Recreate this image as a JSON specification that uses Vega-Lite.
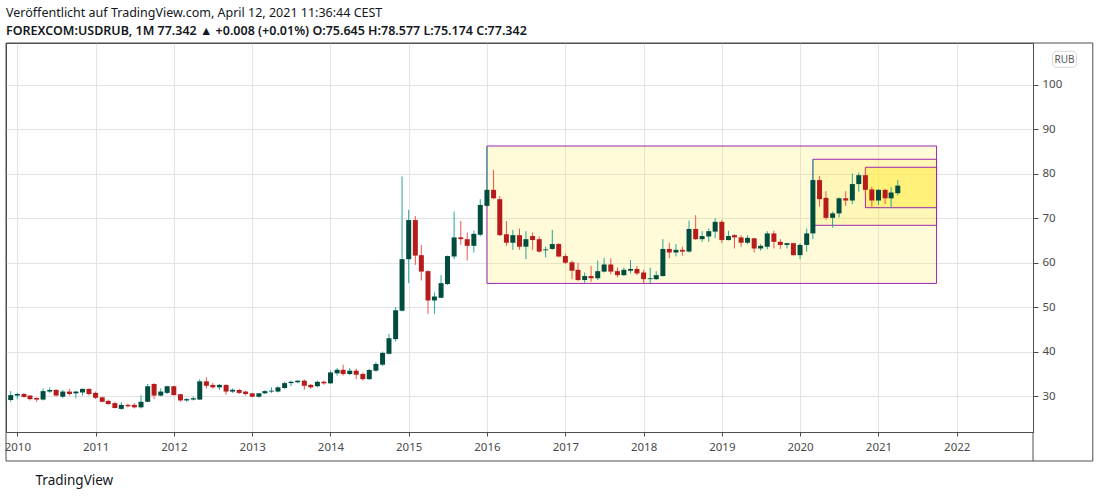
{
  "$schema": "https://vega.github.io/schema/vega-lite/v6.json",
  "width": 1027,
  "height": 389,
  "autosize": {"type": "none"},
  "padding": {"left": 6, "top": 43, "right": 67, "bottom": 66},
  "background": "white",
  "title": {
    "text": "Veröffentlicht auf TradingView.com, April 12, 2021 11:36:44 CEST",
    "subtitle": "FOREXCOM:USDRUB, 1M  77.342 ▲ +0.008 (+0.01%)  O:75.645  H:78.577  L:75.174  C:77.342",
    "anchor": "start",
    "frame": "group",
    "offset": 5,
    "font": "Noto Sans",
    "fontSize": 12.5,
    "fontWeight": "normal",
    "color": "#131722",
    "subtitleFont": "Noto Sans",
    "subtitleFontSize": 12.5,
    "subtitleFontWeight": 600,
    "subtitleColor": "#131722",
    "subtitlePadding": 6
  },
  "config": {
    "view": {"stroke": "#4f4f4f", "strokeWidth": 1},
    "axis": {
      "gridColor": "#e3e3e3",
      "domainColor": "#4f4f4f",
      "tickColor": "#4f4f4f",
      "labelFont": "Noto Sans",
      "labelFontSize": 11.5,
      "labelColor": "#4a4a4a",
      "titleFont": "Noto Sans"
    }
  },
  "datasets": {
    "candles": [
      {"d":"2009-12-01","o":29.1,"h":31.1,"l":28.7,"c":30.2},
      {"d":"2010-01-01","o":30.1,"h":30.7,"l":29.3,"c":30.45},
      {"d":"2010-02-01","o":30.45,"h":30.7,"l":29.6,"c":29.8},
      {"d":"2010-03-01","o":30.1,"h":30.2,"l":29.0,"c":29.3},
      {"d":"2010-04-01","o":29.55,"h":29.7,"l":28.7,"c":29.2},
      {"d":"2010-05-01","o":29.2,"h":31.7,"l":29.0,"c":31.1},
      {"d":"2010-06-01","o":31.0,"h":31.95,"l":30.7,"c":31.35},
      {"d":"2010-07-01","o":31.35,"h":31.6,"l":29.9,"c":30.1},
      {"d":"2010-08-01","o":29.85,"h":31.4,"l":29.5,"c":31.0},
      {"d":"2010-09-01","o":31.0,"h":31.6,"l":30.1,"c":30.45},
      {"d":"2010-10-01","o":30.6,"h":31.1,"l":29.5,"c":31.0},
      {"d":"2010-11-01","o":30.8,"h":31.7,"l":30.1,"c":31.6},
      {"d":"2010-12-01","o":31.6,"h":31.7,"l":30.1,"c":30.45},
      {"d":"2011-01-01","o":30.7,"h":31.0,"l":29.3,"c":29.6},
      {"d":"2011-02-01","o":29.7,"h":29.9,"l":28.6,"c":28.7},
      {"d":"2011-03-01","o":28.9,"h":29.2,"l":28.0,"c":28.2},
      {"d":"2011-04-01","o":28.4,"h":28.7,"l":27.2,"c":27.3},
      {"d":"2011-05-01","o":27.1,"h":28.6,"l":26.9,"c":28.0},
      {"d":"2011-06-01","o":28.0,"h":28.3,"l":27.45,"c":27.7},
      {"d":"2011-07-01","o":28.0,"h":28.4,"l":27.2,"c":27.45},
      {"d":"2011-08-01","o":27.45,"h":30.2,"l":27.2,"c":28.7},
      {"d":"2011-09-01","o":28.7,"h":32.7,"l":28.6,"c":32.2},
      {"d":"2011-10-01","o":32.7,"h":32.9,"l":29.3,"c":30.1},
      {"d":"2011-11-01","o":30.1,"h":31.7,"l":29.9,"c":31.0},
      {"d":"2011-12-01","o":30.7,"h":32.3,"l":30.45,"c":32.2},
      {"d":"2012-01-01","o":32.2,"h":32.3,"l":30.1,"c":30.2},
      {"d":"2012-02-01","o":30.4,"h":30.5,"l":28.7,"c":29.0},
      {"d":"2012-03-01","o":29.0,"h":29.55,"l":28.7,"c":29.3},
      {"d":"2012-04-01","o":29.2,"h":29.9,"l":29.0,"c":29.5},
      {"d":"2012-05-01","o":29.2,"h":33.8,"l":29.1,"c":33.3},
      {"d":"2012-06-01","o":33.3,"h":34.2,"l":31.7,"c":32.3},
      {"d":"2012-07-01","o":32.5,"h":32.9,"l":31.7,"c":31.95},
      {"d":"2012-08-01","o":31.95,"h":32.7,"l":31.35,"c":32.5},
      {"d":"2012-09-01","o":32.5,"h":32.6,"l":30.3,"c":31.0},
      {"d":"2012-10-01","o":31.0,"h":31.7,"l":30.7,"c":31.4},
      {"d":"2012-11-01","o":31.35,"h":31.6,"l":30.45,"c":30.7},
      {"d":"2012-12-01","o":31.0,"h":31.2,"l":30.1,"c":30.45},
      {"d":"2013-01-01","o":30.6,"h":30.7,"l":29.7,"c":29.85},
      {"d":"2013-02-01","o":29.85,"h":30.7,"l":29.6,"c":30.6},
      {"d":"2013-03-01","o":30.6,"h":31.3,"l":30.45,"c":31.1},
      {"d":"2013-04-01","o":31.0,"h":31.95,"l":30.7,"c":31.2},
      {"d":"2013-05-01","o":31.0,"h":32.2,"l":30.8,"c":31.95},
      {"d":"2013-06-01","o":31.8,"h":33.2,"l":31.6,"c":32.9},
      {"d":"2013-07-01","o":32.9,"h":33.45,"l":32.2,"c":33.2},
      {"d":"2013-08-01","o":33.1,"h":33.5,"l":32.9,"c":33.45},
      {"d":"2013-09-01","o":33.45,"h":33.7,"l":31.4,"c":32.3},
      {"d":"2013-10-01","o":32.5,"h":32.7,"l":31.6,"c":31.95},
      {"d":"2013-11-01","o":32.2,"h":33.45,"l":31.95,"c":33.2},
      {"d":"2013-12-01","o":33.2,"h":33.45,"l":32.55,"c":32.85},
      {"d":"2014-01-01","o":32.85,"h":35.7,"l":32.7,"c":35.3},
      {"d":"2014-02-01","o":35.1,"h":36.3,"l":34.6,"c":35.9},
      {"d":"2014-03-01","o":35.9,"h":37.05,"l":34.6,"c":34.95},
      {"d":"2014-04-01","o":34.95,"h":36.3,"l":34.7,"c":35.7},
      {"d":"2014-05-01","o":35.7,"h":36.1,"l":33.8,"c":34.8},
      {"d":"2014-06-01","o":34.95,"h":35.3,"l":33.45,"c":33.8},
      {"d":"2014-07-01","o":33.8,"h":36.1,"l":33.6,"c":35.85},
      {"d":"2014-08-01","o":35.7,"h":37.6,"l":35.5,"c":37.2},
      {"d":"2014-09-01","o":37.05,"h":40.0,"l":36.7,"c":39.7},
      {"d":"2014-10-01","o":39.5,"h":44.0,"l":39.4,"c":43.0},
      {"d":"2014-11-01","o":42.8,"h":50.0,"l":42.3,"c":49.3},
      {"d":"2014-12-01","o":49.2,"h":79.4,"l":49.0,"c":60.8},
      {"d":"2015-01-01","o":60.8,"h":71.9,"l":55.4,"c":69.6},
      {"d":"2015-02-01","o":69.6,"h":70.5,"l":59.5,"c":61.6},
      {"d":"2015-03-01","o":61.7,"h":64.0,"l":56.0,"c":58.0},
      {"d":"2015-04-01","o":58.1,"h":58.3,"l":48.5,"c":51.5},
      {"d":"2015-05-01","o":51.5,"h":53.3,"l":48.5,"c":52.4},
      {"d":"2015-06-01","o":52.1,"h":57.2,"l":52.0,"c":55.4},
      {"d":"2015-07-01","o":55.2,"h":61.6,"l":55.0,"c":61.5},
      {"d":"2015-08-01","o":61.4,"h":71.5,"l":60.8,"c":65.7},
      {"d":"2015-09-01","o":65.7,"h":69.4,"l":64.0,"c":65.3},
      {"d":"2015-10-01","o":65.3,"h":66.8,"l":60.5,"c":63.8},
      {"d":"2015-11-01","o":63.8,"h":67.2,"l":62.3,"c":66.5},
      {"d":"2015-12-01","o":66.3,"h":74.3,"l":66.0,"c":73.0},
      {"d":"2016-01-01","o":72.8,"h":86.1,"l":72.6,"c":76.4},
      {"d":"2016-02-01","o":76.4,"h":80.9,"l":74.3,"c":74.5},
      {"d":"2016-03-01","o":74.3,"h":75.0,"l":66.0,"c":66.2},
      {"d":"2016-04-01","o":66.4,"h":69.4,"l":63.8,"c":64.5},
      {"d":"2016-05-01","o":64.5,"h":67.4,"l":62.9,"c":66.2},
      {"d":"2016-06-01","o":66.2,"h":67.7,"l":62.9,"c":63.6},
      {"d":"2016-07-01","o":63.6,"h":67.1,"l":60.8,"c":65.3},
      {"d":"2016-08-01","o":66.0,"h":66.8,"l":62.9,"c":65.1},
      {"d":"2016-09-01","o":65.3,"h":65.9,"l":62.3,"c":62.5},
      {"d":"2016-10-01","o":62.8,"h":63.6,"l":61.2,"c":63.0},
      {"d":"2016-11-01","o":63.1,"h":67.4,"l":62.9,"c":64.2},
      {"d":"2016-12-01","o":64.2,"h":64.4,"l":61.2,"c":61.4},
      {"d":"2017-01-01","o":61.5,"h":62.0,"l":59.7,"c":60.0},
      {"d":"2017-02-01","o":60.1,"h":60.5,"l":56.3,"c":58.2},
      {"d":"2017-03-01","o":58.4,"h":60.0,"l":55.9,"c":56.1},
      {"d":"2017-04-01","o":56.1,"h":57.8,"l":55.5,"c":57.0},
      {"d":"2017-05-01","o":57.0,"h":59.3,"l":55.7,"c":56.5},
      {"d":"2017-06-01","o":56.5,"h":60.5,"l":56.1,"c":58.1},
      {"d":"2017-07-01","o":58.0,"h":61.1,"l":57.8,"c":59.6},
      {"d":"2017-08-01","o":59.6,"h":61.0,"l":57.4,"c":58.0},
      {"d":"2017-09-01","o":58.1,"h":58.9,"l":56.7,"c":57.2},
      {"d":"2017-10-01","o":57.2,"h":58.9,"l":57.0,"c":58.4},
      {"d":"2017-11-01","o":58.2,"h":60.6,"l":57.6,"c":58.6},
      {"d":"2017-12-01","o":58.6,"h":59.3,"l":57.2,"c":57.6},
      {"d":"2018-01-01","o":57.8,"h":58.4,"l":55.4,"c":56.3},
      {"d":"2018-02-01","o":56.3,"h":58.9,"l":55.4,"c":56.5},
      {"d":"2018-03-01","o":56.3,"h":58.1,"l":56.1,"c":57.2},
      {"d":"2018-04-01","o":57.0,"h":65.3,"l":56.9,"c":63.1},
      {"d":"2018-05-01","o":63.1,"h":64.5,"l":61.0,"c":62.3},
      {"d":"2018-06-01","o":62.3,"h":64.2,"l":61.4,"c":62.9},
      {"d":"2018-07-01","o":62.9,"h":63.6,"l":61.6,"c":62.5},
      {"d":"2018-08-01","o":62.5,"h":69.5,"l":62.3,"c":67.6},
      {"d":"2018-09-01","o":67.6,"h":70.7,"l":65.1,"c":65.3},
      {"d":"2018-10-01","o":65.3,"h":67.1,"l":64.7,"c":66.0},
      {"d":"2018-11-01","o":65.9,"h":67.7,"l":64.7,"c":67.1},
      {"d":"2018-12-01","o":67.0,"h":70.0,"l":65.5,"c":69.2},
      {"d":"2019-01-01","o":69.2,"h":69.6,"l":64.4,"c":65.1},
      {"d":"2019-02-01","o":65.1,"h":67.2,"l":65.0,"c":66.0},
      {"d":"2019-03-01","o":66.2,"h":66.4,"l":63.2,"c":65.7},
      {"d":"2019-04-01","o":65.7,"h":66.2,"l":63.6,"c":64.5},
      {"d":"2019-05-01","o":64.5,"h":66.2,"l":64.2,"c":65.6},
      {"d":"2019-06-01","o":65.5,"h":65.6,"l":62.3,"c":63.2},
      {"d":"2019-07-01","o":63.2,"h":64.2,"l":62.7,"c":63.8},
      {"d":"2019-08-01","o":63.6,"h":67.1,"l":63.0,"c":66.6},
      {"d":"2019-09-01","o":66.6,"h":67.2,"l":63.2,"c":64.7},
      {"d":"2019-10-01","o":64.7,"h":65.3,"l":63.1,"c":64.0},
      {"d":"2019-11-01","o":64.0,"h":64.5,"l":63.2,"c":64.4},
      {"d":"2019-12-01","o":64.4,"h":64.5,"l":61.6,"c":61.7},
      {"d":"2020-01-01","o":61.7,"h":64.4,"l":60.8,"c":64.0},
      {"d":"2020-02-01","o":64.0,"h":67.7,"l":62.5,"c":66.6},
      {"d":"2020-03-01","o":66.6,"h":83.3,"l":65.3,"c":78.6},
      {"d":"2020-04-01","o":78.6,"h":79.5,"l":72.6,"c":74.3},
      {"d":"2020-05-01","o":74.6,"h":76.1,"l":69.6,"c":70.1},
      {"d":"2020-06-01","o":70.1,"h":71.5,"l":67.9,"c":71.1},
      {"d":"2020-07-01","o":71.1,"h":74.7,"l":70.2,"c":74.5},
      {"d":"2020-08-01","o":74.5,"h":76.1,"l":72.8,"c":74.0},
      {"d":"2020-09-01","o":74.0,"h":80.1,"l":73.2,"c":77.7},
      {"d":"2020-10-01","o":77.7,"h":80.3,"l":76.0,"c":79.7},
      {"d":"2020-11-01","o":79.7,"h":81.4,"l":75.2,"c":76.4},
      {"d":"2020-12-01","o":76.5,"h":77.1,"l":72.6,"c":74.0},
      {"d":"2021-01-01","o":74.0,"h":76.6,"l":73.0,"c":76.4},
      {"d":"2021-02-01","o":76.4,"h":76.6,"l":73.2,"c":74.5},
      {"d":"2021-03-01","o":74.5,"h":77.0,"l":72.4,"c":75.8},
      {"d":"2021-04-01","o":75.645,"h":78.577,"l":75.174,"c":77.342}
    ],
    "boxes": [
      {"box":"outer","d":"2016-01-01","d2":"2021-09-29","l":55.34,"h":86.27},
      {"box":"middle","d":"2020-03-01","d2":"2021-09-29","l":68.42,"h":83.28},
      {"box":"inner","d":"2020-11-01","d2":"2021-09-29","l":72.38,"h":81.48}
    ],
    "frame": [
      {"d":"2009-11-09","d2":"2023-09-28","l":15.37,"h":109.45}
    ],
    "badge": [
      {"d":"2023-03-24","d2":"2023-07-14","l":103.98,"h":107.58}
    ],
    "separator": [
      {"d":"2022-12-23","l":15.37,"h":21.9}
    ]
  },
  "layer": [
    {
      "data": {"name": "frame"},
      "mark": {"type": "rect", "fill": "transparent", "stroke": "#4f4f4f", "strokeWidth": 1},
      "encoding": {
        "x": {"field": "d", "type": "temporal",
              "scale": {"type": "utc", "domain": [1257724800000, 1671753600000], "nice": false, "padding": 0},
              "axis": {
                "format": "%Y",
                "tickCount": {"interval": "year", "step": 1},
                "grid": true,
                "tickSize": 4,
                "labelPadding": 5,
                "labelFlush": false,
                "labelOverlap": false,
                "title": "TradingView",
                "titleFontSize": 13.5,
                "titleFontWeight": "normal",
                "titleColor": "#131722",
                "titleAlign": "left",
                "titleAnchor": "start",
                "titleBaseline": "middle",
                "titleX": 29,
                "titleY": 48
              }},
        "x2": {"field": "d2"},
        "y": {"field": "l", "type": "quantitative",
              "scale": {"domain": [21.9, 109.45], "nice": false, "zero": false},
              "axis": {
                "orient": "right",
                "values": [30, 40, 50, 60, 70, 80, 90, 100],
                "grid": true,
                "tickSize": 5,
                "labelPadding": 4,
                "labelAlign": "left",
                "title": "RUB",
                "titleAngle": 0,
                "titleAlign": "center",
                "titleBaseline": "middle",
                "titleX": 31,
                "titleY": 16,
                "titleFontSize": 10,
                "titleFontWeight": "normal",
                "titleColor": "#555555"
              }},
        "y2": {"field": "h"}
      }
    },
    {
      "data": {"name": "badge"},
      "mark": {"type": "rect", "fill": "transparent", "stroke": "#d6d6d6", "strokeWidth": 1, "cornerRadius": 4},
      "encoding": {
        "x": {"field": "d", "type": "temporal", "scale": {"type": "utc", "domain": [1257724800000, 1671753600000], "nice": false, "padding": 0}},
        "x2": {"field": "d2"},
        "y": {"field": "l", "type": "quantitative", "scale": {"domain": [21.9, 109.45], "nice": false, "zero": false}},
        "y2": {"field": "h"}
      }
    },
    {
      "data": {"name": "boxes"},
      "mark": {"type": "rect", "fill": "#ffeb3b", "stroke": "#9c27b0", "strokeWidth": 1},
      "encoding": {
        "x": {"field": "d", "type": "temporal", "scale": {"type": "utc", "domain": [1257724800000, 1671753600000], "nice": false, "padding": 0}},
        "x2": {"field": "d2"},
        "y": {"field": "l", "type": "quantitative", "scale": {"domain": [21.9, 109.45], "nice": false, "zero": false}},
        "y2": {"field": "h"},
        "fillOpacity": {"condition": {"test": "datum.box === 'inner'", "value": 0.5}, "value": 0.2}
      }
    },
    {
      "data": {"name": "candles"},
      "mark": {"type": "rule", "strokeWidth": 1},
      "encoding": {
        "x": {"field": "d", "type": "temporal", "scale": {"type": "utc", "domain": [1257724800000, 1671753600000], "nice": false, "padding": 0}},
        "y": {"field": "l", "type": "quantitative", "scale": {"domain": [21.9, 109.45], "nice": false, "zero": false}},
        "y2": {"field": "h"},
        "color": {"condition": {"test": "datum.c >= datum.o", "value": "#26a69a"}, "value": "#ef5350"}
      }
    },
    {
      "data": {"name": "candles"},
      "mark": {"type": "bar", "size": 5},
      "encoding": {
        "x": {"field": "d", "type": "temporal", "scale": {"type": "utc", "domain": [1257724800000, 1671753600000], "nice": false, "padding": 0}},
        "y": {"field": "o", "type": "quantitative", "scale": {"domain": [21.9, 109.45], "nice": false, "zero": false}},
        "y2": {"field": "c"},
        "color": {"condition": {"test": "datum.c >= datum.o", "value": "#004d40"}, "value": "#b71c1c"}
      }
    },
    {
      "data": {"name": "separator"},
      "mark": {"type": "rule", "stroke": "#4f4f4f", "strokeWidth": 1},
      "encoding": {
        "x": {"field": "d", "type": "temporal", "scale": {"type": "utc", "domain": [1257724800000, 1671753600000], "nice": false, "padding": 0}},
        "y": {"field": "l", "type": "quantitative", "scale": {"domain": [21.9, 109.45], "nice": false, "zero": false}},
        "y2": {"field": "h"}
      }
    }
  ]
}
